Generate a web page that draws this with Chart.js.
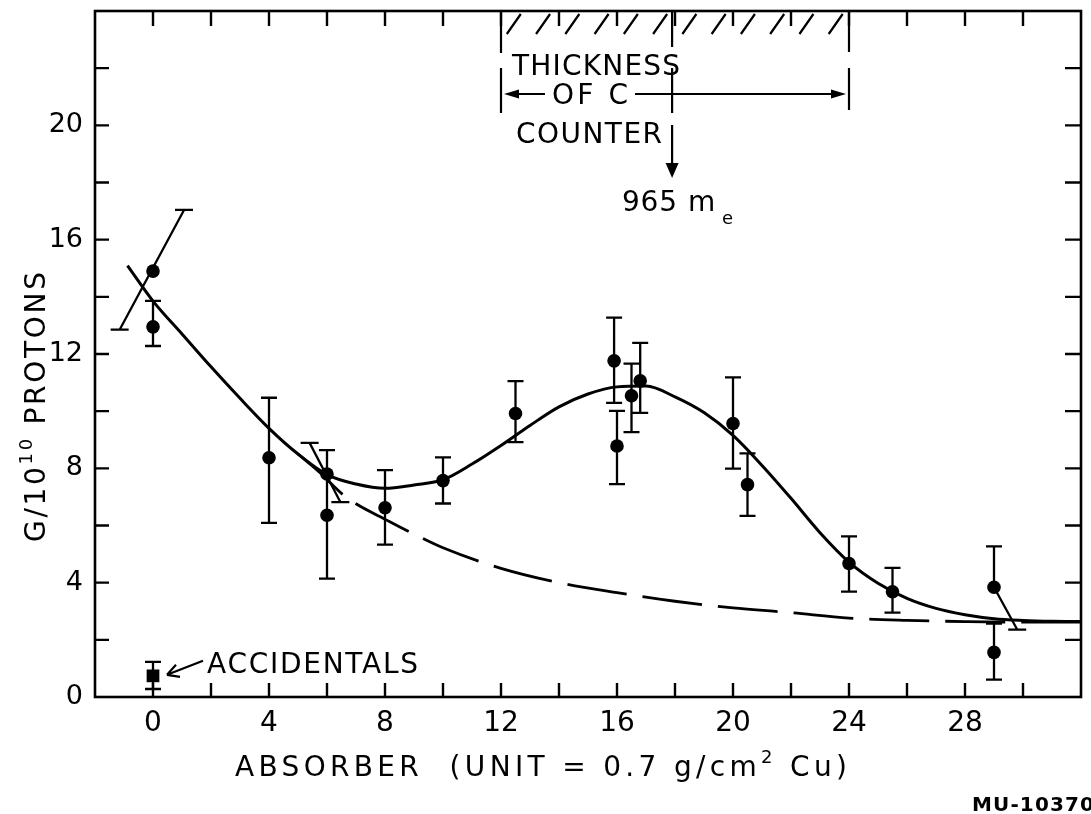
<!DOCTYPE html>
<html>
<head>
<meta charset="utf-8">
<script src="https://cdn.jsdelivr.net/npm/chart.js@4"></script>
<style>
  html, body { margin: 0; padding: 0; background: #fff; }
  #wrap { width: 1091px; height: 814px; }
</style>
</head>
<body>
<div id="wrap"><canvas id="chart" width="1091" height="814"></canvas></div>
<script>
// measured points: absorber (units of 0.7 g/cm2 Cu) vs G per 10^10 protons
const pointX  = [0, 0, 4, 6, 6, 8, 10, 12.5, 15.9, 16, 16.5, 16.8, 20, 20.5, 24, 25.5, 29, 29];
const pointY  = [14.9, 12.95, 8.37, 7.8, 6.36, 6.62, 7.57, 9.92, 11.76, 8.78, 10.54, 11.06, 9.57, 7.43, 4.67, 3.68, 3.84, 1.56];
const errLow  = [null, 12.28, 6.09, null, 4.14, 5.33, 6.77, 8.92, 10.29, 7.45, 9.27, 9.94, 7.99, 6.34, 3.69, 2.95, null, 0.61];
const errHigh = [null, 13.86, 10.47, null, 8.64, 7.94, 8.38, 11.05, 13.27, 10.01, 11.66, 12.39, 11.18, 8.52, 5.62, 4.52, 5.27, 2.57];

// slanted error bars (drawn from -> to)
const slantFromX = [-1.15, 5.4, 29];
const slantFromY = [12.85, 8.89, 3.84];
const slantToX   = [1.07, 6.46, 29.8];
const slantToY   = [17.04, 6.82, 2.36];
const slantCapFrom = [true, true, false];

// accidentals
const accX = [0];
const accY = [0.74];
const accLow = [0.28];
const accHigh = [1.23];

// smooth fit through the peak (solid)
const curveX = [-0.88, 0, 1, 2, 3, 4, 5, 6, 7, 8, 9, 10, 11, 12, 13, 14, 15, 16, 17, 18, 19, 20, 21, 22, 23, 24, 25, 26, 27, 28, 29, 30, 31, 32];
const curveY = [15.09, 13.85, 12.7, 11.55, 10.45, 9.4, 8.5, 7.78, 7.45, 7.3, 7.42, 7.6, 8.15, 8.8, 9.5, 10.15, 10.6, 10.85, 10.88, 10.5, 9.95, 9.15, 8.1, 6.95, 5.75, 4.72, 3.98, 3.45, 3.1, 2.88, 2.74, 2.68, 2.65, 2.64];

// background without the peak (dashed)
const dashX = [5.0, 5.7, 6.65, 8.15, 9.2, 10, 12, 14, 16, 18, 20, 22, 24, 26, 28, 30, 32];
const dashY = [8.5, 7.9, 7.0, 6.14, 5.6, 5.22, 4.5, 4.0, 3.65, 3.35, 3.12, 2.95, 2.76, 2.68, 2.64, 2.62, 2.62];

// thickness of C counter and 965 m_e marker
const counterStart = 12;
const counterEnd = 24;
const massLine = 17.9;

const FONT = '"DejaVu Sans", sans-serif';

function toXY(xs, ys) {
    return xs.map((v, i) => ({ x: v, y: ys[i] }));
}

function hcap(ctx, px, py, half) {
    ctx.moveTo(px - half, py);
    ctx.lineTo(px + half, py);
}

function arrowHead(ctx, tipX, tipY, dx, dy, len, halfW) {
    const bx = tipX - dx * len, by = tipY - dy * len;
    ctx.beginPath();
    ctx.moveTo(tipX, tipY);
    ctx.lineTo(bx - dy * halfW, by + dx * halfW);
    ctx.lineTo(bx + dy * halfW, by - dx * halfW);
    ctx.closePath();
    ctx.fill();
}

// draws runs of text so that they span 'target' px (0 = natural width)
function drawRuns(ctx, runs, x0, baseline, target) {
    let w0 = 0, n = 0;
    ctx.letterSpacing = '0px';
    runs.forEach(r => {
        ctx.font = (r.bold ? 'bold ' : '') + r.size + 'px ' + FONT;
        w0 += ctx.measureText(r.t).width;
        n += r.t.length;
    });
    const sp = target ? (target - w0) / Math.max(1, n - 1) : 0;
    let x = x0;
    runs.forEach(r => {
        ctx.font = (r.bold ? 'bold ' : '') + r.size + 'px ' + FONT;
        ctx.letterSpacing = sp + 'px';
        ctx.fillText(r.t, x, baseline + (r.dy || 0));
        x += ctx.measureText(r.t).width;
    });
    ctx.letterSpacing = '0px';
}

const frameAndTicks = {
    id: 'frameAndTicks',
    afterDraw(chart) {
        const { ctx, chartArea: a, scales: { x, y } } = chart;
        ctx.save();
        ctx.strokeStyle = '#000';
        ctx.lineWidth = 2.6;
        ctx.strokeRect(a.left, a.top, a.right - a.left, a.bottom - a.top);
        ctx.lineWidth = 2.4;
        ctx.beginPath();
        x.ticks.forEach(t => {
            if (t.value <= x.min || t.value >= x.max) return;
            const px = x.getPixelForValue(t.value);
            ctx.moveTo(px, a.bottom); ctx.lineTo(px, a.bottom - 14);
            ctx.moveTo(px, a.top); ctx.lineTo(px, a.top + 15);
        });
        y.ticks.forEach(t => {
            if (t.value <= y.min || t.value >= y.max) return;
            const py = y.getPixelForValue(t.value);
            ctx.moveTo(a.left, py); ctx.lineTo(a.left + 14, py);
            ctx.moveTo(a.right, py); ctx.lineTo(a.right - 16, py);
        });
        ctx.stroke();
        ctx.restore();
    }
};

const errorBars = {
    id: 'errorBars',
    afterDatasetsDraw(chart) {
        const { ctx, scales: { x, y } } = chart;
        ctx.save();
        ctx.strokeStyle = '#000';
        ctx.lineWidth = 2.3;
        ctx.beginPath();
        pointX.forEach((v, i) => {
            const px = x.getPixelForValue(v), py = y.getPixelForValue(pointY[i]);
            if (errHigh[i] != null) {
                const t = y.getPixelForValue(errHigh[i]);
                ctx.moveTo(px, py); ctx.lineTo(px, t); hcap(ctx, px, t, 8);
            }
            if (errLow[i] != null) {
                const b = y.getPixelForValue(errLow[i]);
                ctx.moveTo(px, py); ctx.lineTo(px, b); hcap(ctx, px, b, 8);
            }
        });
        accX.forEach((v, i) => {
            const px = x.getPixelForValue(v);
            const t = y.getPixelForValue(accHigh[i]), b = y.getPixelForValue(accLow[i]);
            ctx.moveTo(px, t); ctx.lineTo(px, b);
            hcap(ctx, px, t, 8); hcap(ctx, px, b, 8);
        });
        slantFromX.forEach((v, i) => {
            const x0 = x.getPixelForValue(v), y0 = y.getPixelForValue(slantFromY[i]);
            const x1 = x.getPixelForValue(slantToX[i]), y1 = y.getPixelForValue(slantToY[i]);
            ctx.moveTo(x0, y0); ctx.lineTo(x1, y1);
            if (slantCapFrom[i]) hcap(ctx, x0, y0, 9);
            hcap(ctx, x1, y1, 9);
        });
        ctx.stroke();
        ctx.restore();
    }
};

const annotations = {
    id: 'annotations',
    afterDraw(chart) {
        const { ctx, chartArea: a, scales: { x, y } } = chart;
        const xs = x.getPixelForValue(counterStart);
        const xe = x.getPixelForValue(counterEnd);
        const xm = x.getPixelForValue(massLine);
        ctx.save();
        ctx.strokeStyle = '#000';
        ctx.fillStyle = '#000';
        ctx.lineWidth = 2.2;

        // hatched counter region on the top edge
        ctx.beginPath();
        ctx.moveTo(xs, a.top); ctx.lineTo(xs, a.top + 42);
        ctx.moveTo(xm, a.top); ctx.lineTo(xm, a.top + 36);
        ctx.moveTo(xe, a.top); ctx.lineTo(xe, a.top + 41);
        for (let i = 0; i < 12; i++) {
            const u = x.getPixelForValue(counterStart + 0.2 + i * (11.1 / 11));
            ctx.moveTo(u, a.top + 23); ctx.lineTo(u + 14, a.top + 3);
        }
        // lower marks and arrows
        ctx.moveTo(xs, a.top + 57); ctx.lineTo(xs, a.top + 102);
        ctx.moveTo(xe, a.top + 57); ctx.lineTo(xe, a.top + 99);
        ctx.moveTo(xm, a.top + 57); ctx.lineTo(xm, a.top + 102);
        ctx.moveTo(xm, a.top + 114); ctx.lineTo(xm, a.top + 156);
        const ay = a.top + 83;
        ctx.moveTo(xs + 10, ay); ctx.lineTo(545, ay);
        ctx.moveTo(635, ay); ctx.lineTo(xe - 10, ay);
        ctx.stroke();
        arrowHead(ctx, xs + 3, ay, -1, 0, 15, 4.5);
        arrowHead(ctx, xe - 3, ay, 1, 0, 15, 4.5);
        arrowHead(ctx, xm, a.top + 167, 0, 1, 15, 6.5);

        // labels of the counter
        drawRuns(ctx, [{ t: 'THICKNESS', size: 28 }], 512, 75, 168);
        drawRuns(ctx, [{ t: 'OF C', size: 28 }], 552, 104, 76);
        drawRuns(ctx, [{ t: 'COUNTER', size: 28 }], 516, 143, 146);
        drawRuns(ctx, [{ t: '965', size: 28 }], 622, 211, 55);
        drawRuns(ctx, [{ t: 'm', size: 28 }], 688, 211, 0);
        drawRuns(ctx, [{ t: 'e', size: 18 }], 722, 224, 0);

        // accidentals label with open arrow
        const sx = x.getPixelForValue(accX[0]) + 14, sy = y.getPixelForValue(accY[0]) - 1;
        ctx.beginPath();
        ctx.moveTo(sx + 36, sy - 14); ctx.lineTo(sx, sy);
        ctx.moveTo(sx, sy); ctx.lineTo(sx + 9, sy - 10);
        ctx.moveTo(sx, sy); ctx.lineTo(sx + 13, sy + 2);
        ctx.stroke();
        drawRuns(ctx, [{ t: 'ACCIDENTALS', size: 28 }], 207, 673, 211);

        // x axis title
        drawRuns(ctx, [
            { t: 'ABSORBER  (UNIT = 0.7 g/cm', size: 28 },
            { t: '2', size: 18, dy: -13 },
            { t: ' Cu)', size: 28 }
        ], 235, 776, 612);

        // y axis title (rotated)
        ctx.save();
        ctx.translate(45, 542);
        ctx.rotate(-Math.PI / 2);
        drawRuns(ctx, [
            { t: 'G/10', size: 28 },
            { t: '10', size: 18, dy: -13 },
            { t: ' PROTONS', size: 28 }
        ], 0, 0, 270);
        ctx.restore();

        drawRuns(ctx, [{ t: 'MU-10370', size: 20, bold: true }], 972, 811, 122);
        ctx.restore();
    }
};

new Chart(document.getElementById('chart'), {
    type: 'scatter',
    data: {
        datasets: [
            {
                label: 'points',
                data: toXY(pointX, pointY),
                pointRadius: 6.8,
                pointHoverRadius: 6.8,
                backgroundColor: '#000',
                borderColor: '#000',
                borderWidth: 0
            },
            {
                label: 'accidentals',
                data: toXY(accX, accY),
                pointStyle: 'rect',
                pointRadius: 9,
                backgroundColor: '#000',
                borderColor: '#000',
                borderWidth: 0
            },
            {
                type: 'line',
                label: 'fit',
                data: toXY(curveX, curveY),
                borderColor: '#000',
                borderWidth: 3,
                pointRadius: 0,
                cubicInterpolationMode: 'monotone',
                fill: false
            },
            {
                type: 'line',
                label: 'background',
                data: toXY(dashX, dashY),
                borderColor: '#000',
                borderWidth: 2.8,
                borderDash: [60, 16],
                pointRadius: 0,
                cubicInterpolationMode: 'monotone',
                fill: false
            }
        ]
    },
    options: {
        responsive: false,
        animation: false,
        layout: { padding: { top: 11, right: 10, left: 0, bottom: 0 } },
        plugins: {
            legend: { display: false },
            tooltip: { enabled: false }
        },
        scales: {
            x: {
                type: 'linear',
                min: -2,
                max: 32,
                grid: { display: false, drawTicks: false },
                border: { display: false },
                ticks: {
                    stepSize: 2,
                    autoSkip: false,
                    maxRotation: 0,
                    padding: 10,
                    color: '#000',
                    font: { family: FONT, size: 28 },
                    callback: v => (v >= 0 && v <= 28 && v % 4 === 0) ? String(v) : ''
                },
                afterFit: s => { s.height = 117; s.paddingLeft = 0; s.paddingRight = 0; }
            },
            y: {
                min: 0,
                max: 24,
                grid: { display: false, drawTicks: false },
                border: { display: false },
                ticks: {
                    stepSize: 2,
                    padding: 12,
                    color: '#000',
                    font: { family: FONT, size: 27 },
                    callback: v => (v % 4 === 0 && v < 24) ? String(v) : ''
                },
                afterFit: s => { s.width = 95; s.paddingTop = 0; s.paddingBottom = 0; }
            }
        }
    },
    plugins: [frameAndTicks, errorBars, annotations]
});
</script>
</body>
</html>
